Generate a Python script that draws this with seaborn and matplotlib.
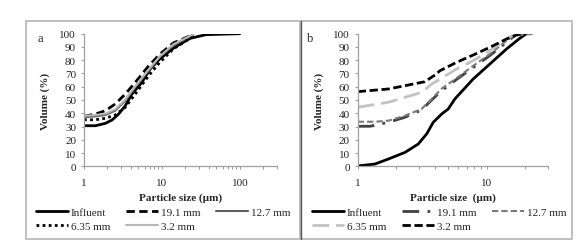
import matplotlib
matplotlib.use("Agg")
import matplotlib.pyplot as plt
import seaborn as sns
from matplotlib.patches import Rectangle
from matplotlib.ticker import LogLocator, NullFormatter, FixedLocator

# ---------------- data ----------------
legend_labels = ["Influent", "19.1 mm", "12.7 mm", "6.35 mm", "3.2 mm"]
y_ticks = [0, 10, 20, 30, 40, 50, 60, 70, 80, 90, 100]

# panel a
a_x_influent = [1, 1.4, 1.88, 2.29, 2.78, 3.39, 4.12, 5.54, 7.08, 9.4, 14, 17, 23, 37, 100]
a_v_influent = [30.6, 30.6, 32.4, 34.9, 39.4, 45.7, 54.5, 63.3, 73.4, 81, 89, 92, 96.5, 99.3, 100]
a_x_other = [1, 1.4, 1.88, 2.52, 3.39, 4.55, 6.75, 9.4, 14, 25]
a_v_191 = [37.7, 39.4, 41.9, 47, 54.5, 63.3, 75.7, 84.5, 93, 99.3]
a_v_127 = [37, 37.7, 38.7, 42, 49.5, 59.6, 72.1, 82.5, 91, 99]
a_v_635 = [35.1, 35.1, 36.2, 38.7, 44.5, 54.5, 68.3, 78.4, 88.5, 98]
a_v_32 = [38, 38.7, 39.7, 43, 50.5, 60.5, 73, 83, 92, 99.5]

# panel b
b_x_influent = [1, 1.36, 1.73, 2.33, 2.95, 3.43, 3.86, 4.48, 5.04, 5.68, 7.87, 10.6, 14.3, 18.1, 20.4]
b_v_influent = [0.3, 1.7, 5.5, 10.5, 16.8, 24.4, 33.2, 39.4, 43.2, 50.8, 65.8, 77.1, 88.5, 96.5, 100]
b_x_191 = [1, 1.25, 1.73, 2.33, 3.13, 3.75, 4.48, 5.85, 7.87, 10.6, 14.3, 16.5]
b_v_191 = [30.2, 30.2, 33.2, 37, 42.5, 50, 57, 65.5, 74.5, 83.5, 93.5, 98.5]
b_x_127 = [1, 1.36, 1.73, 2.33, 3.13, 3.75, 4.48, 5.85, 7.87, 10.6, 14.3, 16.1, 24]
b_v_127 = [33.6, 33.6, 34.4, 38.2, 43.2, 50.8, 58.5, 66.5, 75.7, 84.7, 94.7, 98.5, 100]
b_x_635 = [1, 1.73, 2.33, 3.13, 3.75, 4.48, 5.85, 7.87, 10.6, 14.3, 16]
b_v_635 = [44.5, 48.3, 52, 55.8, 62, 66.5, 73.4, 79.6, 87.2, 96, 99]
b_x_32 = [1, 1.73, 2.33, 3.32, 3.99, 4.35, 5.85, 7.87, 10.6, 14.3, 17.1, 18.5]
b_v_32 = [56.3, 58.3, 60.8, 63.8, 68.9, 72.1, 78.4, 83.9, 89.7, 96, 99, 100]

# ---------------- style ----------------
sns.set_style("white")
plt.rcParams["font.family"] = ["Liberation Serif", "DejaVu Serif"]
plt.rcParams["font.size"] = 8

W, H = 586, 251
fig = plt.figure(figsize=(W / 100, H / 100), dpi=100)


def fx(px):
    return px / W


def fy(py):
    return 1 - py / H


# panel borders
fig.patches.append(Rectangle((fx(26), fy(240)), fx(300) - fx(26), fy(22) - fy(240),
                             transform=fig.transFigure, fill=False, edgecolor="#b5b5b5", lw=1.2))
fig.patches.append(Rectangle((fx(301), fy(240)), fx(572) - fx(301), fy(22) - fy(240),
                             transform=fig.transFigure, fill=False, edgecolor="#b5b5b5", lw=1.2))
fig.lines.append(plt.Line2D([fx(300.5), fx(300.5)], [fy(240), fy(22)], transform=fig.transFigure,
                            color="#555555", lw=1.0))

ax_a = fig.add_axes([fx(84), fy(167.3), fx(277) - fx(84), fy(34.7) - fy(167.3)])
ax_b = fig.add_axes([fx(357.7), fy(167.3), fx(548) - fx(357.7), fy(34.7) - fy(167.3)])

spine_col = "#a0a0a0"


def style_axis(ax, xmax, xticks, xlabel):
    ax.set_xscale("log")
    ax.set_xlim(1, xmax)
    ax.set_ylim(0, 100)
    ax.set_yticks(y_ticks)
    ax.xaxis.set_major_locator(FixedLocator(xticks))
    ax.set_xticklabels([str(t) for t in xticks])
    ax.xaxis.set_minor_locator(LogLocator(base=10, subs=range(2, 10)))
    ax.xaxis.set_minor_formatter(NullFormatter())
    for s in ["top", "right"]:
        ax.spines[s].set_visible(False)
    for s in ["left", "bottom"]:
        ax.spines[s].set_color(spine_col)
        ax.spines[s].set_linewidth(0.9)
    ax.tick_params(axis="y", which="major", direction="out", length=2.2, width=0.8,
                   color=spine_col, pad=3.5, labelsize=8, left=True)
    ax.tick_params(axis="x", which="major", direction="out", length=2.2, width=0.8,
                   color=spine_col, pad=6, labelsize=8, bottom=True)
    ax.tick_params(axis="x", which="minor", direction="out", length=2.2, width=0.8,
                   color=spine_col, bottom=True)
    ax.set_xlabel(xlabel, fontweight="bold", fontsize=8, labelpad=4)
    ax.set_ylabel("Volume (%)", fontweight="bold", fontsize=8)
    ax.yaxis.set_label_coords(-34 / ax.bbox.width, 0.5)
    ax.grid(False)


# ---------------- panel a ----------------
sns.lineplot(x=a_x_influent, y=a_v_influent, ax=ax_a, color="black", lw=2.0)
sns.lineplot(x=a_x_other, y=a_v_191, ax=ax_a, color="black", lw=2.0, linestyle=(0, (3, 1.6)))
sns.lineplot(x=a_x_other, y=a_v_127, ax=ax_a, color="#5f5f5f", lw=1.5)
sns.lineplot(x=a_x_other, y=a_v_635, ax=ax_a, color="black", lw=2.0, linestyle=(0, (1, 1.2)))
sns.lineplot(x=a_x_other, y=a_v_32, ax=ax_a, color="#b8b8b8", lw=1.5)
style_axis(ax_a, 300, [1, 10, 100], "Particle size (µm)")
lines_a = ax_a.get_lines()

# ---------------- panel b ----------------
sns.lineplot(x=b_x_influent, y=b_v_influent, ax=ax_b, color="black", lw=2.0)
sns.lineplot(x=b_x_191, y=b_v_191, ax=ax_b, color="#404040", lw=2.0, linestyle=(0, (6, 3, 1, 3)))
sns.lineplot(x=b_x_127, y=b_v_127, ax=ax_b, color="#7a7a7a", lw=1.5, linestyle=(0, (3, 1.5)))
sns.lineplot(x=b_x_635, y=b_v_635, ax=ax_b, color="#c2c2c2", lw=2.0, linestyle=(0, (6, 2.5)))
sns.lineplot(x=b_x_32, y=b_v_32, ax=ax_b, color="black", lw=2.0, linestyle=(0, (3, 1.3)))
style_axis(ax_b, 30, [1, 10], "Particle size  (µm)")
lines_b = ax_b.get_lines()

# panel letters
fig.text(fx(40), fy(39), "a", fontsize=9, ha="center", va="center")
fig.text(fx(310), fy(39), "b", fontsize=9, ha="center", va="center")

# legends (row-wise order: Influent, 19.1, 12.7 / 6.35, 3.2)
order = [0, 3, 1, 4, 2]
for lines, x0 in [(lines_a, 36), (lines_b, 312)]:
    hs = [lines[i] for i in order]
    ls = [legend_labels[i] for i in order]
    fig.legend(hs, ls, ncol=3, loc="upper left",
               bbox_to_anchor=(fx(x0), fy(208)), bbox_transform=fig.transFigure,
               frameon=False, fontsize=8, handlelength=2.9, handletextpad=0.25,
               columnspacing=1.4, labelspacing=0.37, borderpad=0, borderaxespad=0)

fig.savefig("out.png", dpi=100)
